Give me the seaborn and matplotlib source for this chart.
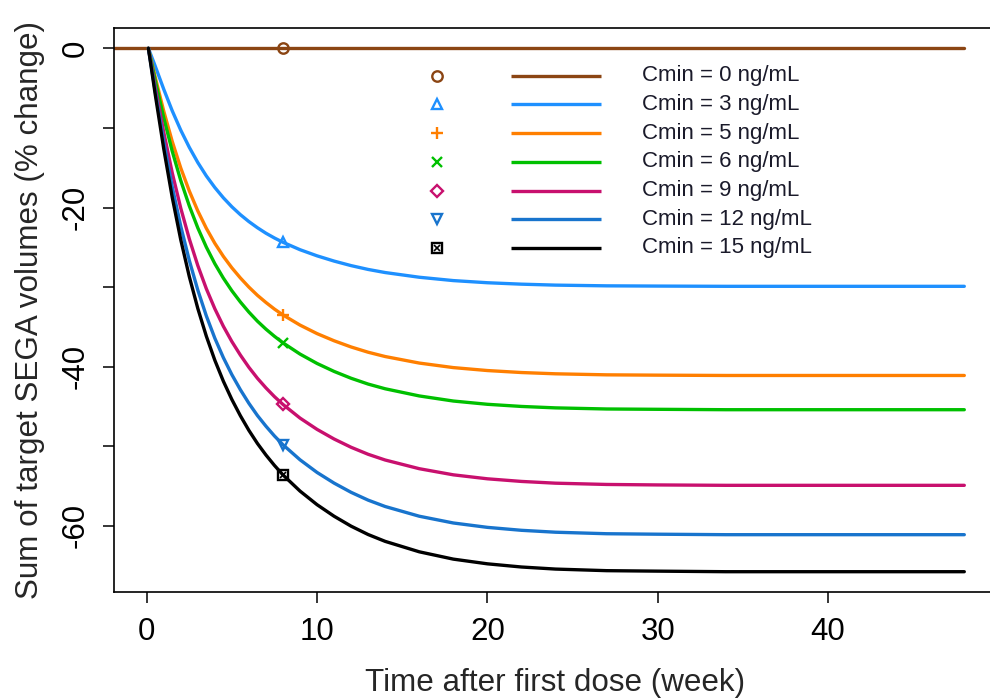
import matplotlib
matplotlib.use("Agg")
import matplotlib.pyplot as plt
import pandas as pd
import seaborn as sns

# Simulated tumour-volume response by trough concentration
weeks = [0.1, 0.5, 1, 1.5, 2, 2.5, 3, 3.5, 4, 4.5, 5, 5.5, 6, 6.5, 7, 7.5, 8,
         9, 10, 11, 12, 13, 14, 16, 18, 20, 22, 24, 27, 30, 34, 40, 48]

baseline_weeks = [-1.9, 48]
change_0 = [0.0, 0.0]

change_3 = [0, -2.24, -5.14, -7.86, -10.29, -12.44, -14.35, -16.03, -17.49, -18.78,
            -19.91, -20.9, -21.77, -22.54, -23.23, -23.83, -24.37, -25.3, -26.07,
            -26.73, -27.3, -27.78, -28.17, -28.76, -29.18, -29.45, -29.63, -29.75,
            -29.84, -29.87, -29.9, -29.9, -29.9]
change_5 = [0, -3.62, -7.89, -11.71, -15.04, -17.92, -20.43, -22.61, -24.5, -26.14,
            -27.58, -28.85, -30.0, -31.03, -31.93, -32.76, -33.5, -34.77, -35.84,
            -36.74, -37.52, -38.18, -38.72, -39.54, -40.11, -40.48, -40.73, -40.89,
            -41.02, -41.06, -41.1, -41.1, -41.1]
change_6 = [0, -4.0, -8.72, -12.94, -16.62, -19.79, -22.56, -24.97, -27.06, -28.87,
            -30.46, -31.87, -33.14, -34.28, -35.28, -36.18, -37.0, -38.41, -39.59,
            -40.59, -41.45, -42.18, -42.77, -43.67, -44.31, -44.72, -44.99, -45.17,
            -45.31, -45.35, -45.4, -45.4, -45.4]
change_9 = [0, -4.83, -10.54, -15.65, -20.09, -23.94, -27.29, -30.2, -32.72, -34.92,
            -36.84, -38.54, -40.08, -41.45, -42.66, -43.76, -44.74, -46.45, -47.87,
            -49.08, -50.12, -51.0, -51.72, -52.81, -53.58, -54.08, -54.41, -54.63,
            -54.79, -54.85, -54.9, -54.9, -54.9]
change_12 = [0, -5.38, -11.73, -17.41, -22.36, -26.64, -30.37, -33.61, -36.42, -38.86,
             -41.0, -42.89, -44.6, -46.13, -47.47, -48.7, -49.8, -51.69, -53.28,
             -54.62, -55.78, -56.76, -57.56, -58.78, -59.63, -60.18, -60.55, -60.79,
             -60.98, -61.04, -61.1, -61.1, -61.1]
change_15 = [0, -5.79, -12.62, -18.74, -24.06, -28.67, -32.68, -36.16, -39.19, -41.82,
             -44.12, -46.16, -48.0, -49.64, -51.09, -52.4, -53.59, -55.62, -57.33,
             -58.78, -60.03, -61.08, -61.94, -63.25, -64.17, -64.76, -65.16, -65.42,
             -65.62, -65.68, -65.75, -65.75, -65.75]

labels = ["Cmin = 0 ng/mL", "Cmin = 3 ng/mL", "Cmin = 5 ng/mL", "Cmin = 6 ng/mL",
          "Cmin = 9 ng/mL", "Cmin = 12 ng/mL", "Cmin = 15 ng/mL"]
colors = ["#8B4513", "#1E90FF", "#FF7F00", "#00C000", "#C8106E", "#1874CD", "#000000"]
marker_styles = ["o", "^", "+", "x", "D", "v", "s"]
marker_week = 8

x_ticks = [0, 10, 20, 30, 40]
y_ticks = [0, -10, -20, -30, -40, -50, -60]
y_ticklabels = ["0", "", "-20", "", "-40", "", "-60"]

series = [(baseline_weeks, change_0)] + [(weeks, c) for c in
                                         (change_3, change_5, change_6, change_9, change_12, change_15)]

frames = []
for lab, (w, c) in zip(labels, series):
    frames.append(pd.DataFrame({"week": w, "change": c, "dose": lab}))
df = pd.concat(frames, ignore_index=True)

sns.set_style("ticks")
plt.rcParams["font.family"] = ["Liberation Sans", "DejaVu Sans"]

fig = plt.figure(figsize=(9.9, 6.98), dpi=100)
ax = fig.add_axes([114 / 990, 1 - 592 / 698, 883 / 990, 564 / 698])

sns.lineplot(data=df, x="week", y="change", hue="dose", palette=colors,
             hue_order=labels, estimator=None, sort=False, linewidth=2.4,
             legend=False, ax=ax)

# Symbols at week 8 on each curve
mk_sizes = {"o": 7.5, "^": 7.5, "+": 8.5, "x": 7.5, "D": 6.0, "v": 7.5, "s": 7.0}


def draw_symbol(x, y, m, col, **kw):
    ms = mk_sizes[m]
    ax.plot([x], [y], marker=m, ms=ms, mec=col, mfc="none", mew=1.7,
            ls="none", zorder=5, **kw)
    if m == "s":
        ax.plot([x], [y], marker="x", ms=ms * 0.55, mec=col, mew=1.2,
                ls="none", zorder=6, **kw)


for lab, (w, c), col, m in zip(labels, series, colors, marker_styles):
    val = c[0] if lab == labels[0] else c[w.index(marker_week)]
    draw_symbol(marker_week, val, m, col)

ax.set_xlim(-1.92, 49.92)
ax.set_ylim(-68.3, 2.55)
ax.set_xticks(x_ticks)
ax.set_yticks(y_ticks)
ax.set_yticklabels(y_ticklabels, rotation=90, va="center")
ax.tick_params(axis="both", direction="out", length=8, width=1.1, labelsize=22.5,
               color="black", labelcolor="black")
ax.tick_params(axis="x", pad=10)
ax.tick_params(axis="y", pad=9)
for s in ax.spines.values():
    s.set_visible(True)
    s.set_linewidth(1.2)
    s.set_color("black")

ax.set_xlabel("Time after first dose (week)", fontsize=22.6)
ax.set_ylabel("Sum of target SEGA volumes (% change)", fontsize=22.6)
ax.xaxis.set_label_coords(0.5, -0.135)
ax.yaxis.set_label_coords(-0.078, 0.5)

# Legend: symbol column, line sample, then text
row0 = 0.9154
step = 0.0509
for i, (lab, col, m) in enumerate(zip(labels, colors, marker_styles)):
    yy = row0 - i * step
    draw_symbol(0.3658, yy, m, col, transform=ax.transAxes, clip_on=False)
    ax.plot([0.4496, 0.5515], [yy, yy], color=col, lw=2.4, transform=ax.transAxes,
            solid_capstyle="butt")
    ax.text(0.598, yy, lab, fontsize=16, va="center", ha="left",
            color="#1a1a2a", transform=ax.transAxes)

fig.savefig("out.png", dpi=100)
